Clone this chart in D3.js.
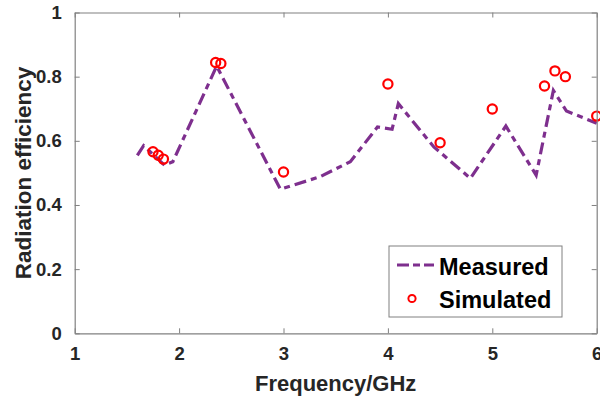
<!DOCTYPE html>
<html lang="en">
<head>
<meta charset="utf-8">
<script src="https://d3js.org/d3.v7.min.js"></script>
<style>
  body { margin: 0; background: #fff; }
  text { font-family: "Liberation Sans", Arial, sans-serif; font-weight: bold; }
</style>
</head>
<body>
<div id="chart"></div>
<script>
// measured curve
const measFreq = [1.60, 1.66, 1.86, 1.94, 2.36, 2.97, 3.35, 3.64, 3.90, 4.04, 4.10, 4.44, 4.79, 5.13, 5.42, 5.585, 5.71, 6.00];
const measEff  = [0.555, 0.585, 0.524, 0.535, 0.833, 0.449, 0.488, 0.535, 0.643, 0.636, 0.716, 0.581, 0.483, 0.646, 0.493, 0.757, 0.693, 0.655];
// simulated points
const simFreq = [1.75, 1.80, 1.85, 2.35, 2.40, 3.0, 4.0, 4.5, 5.0, 5.5, 5.6, 5.7, 6.0];
const simEff  = [0.566, 0.555, 0.543, 0.844, 0.841, 0.503, 0.777, 0.594, 0.699, 0.771, 0.818, 0.800, 0.677];

const xTicks = [1, 2, 3, 4, 5, 6];
const yTicks = [0, 0.2, 0.4, 0.6, 0.8, 1];

const W = 600, H = 398;
const mLeft = 74.7, mRight = 596.7, mTop = 12.5, mBottom = 333.3;
const purple = "#7E2F8E", red = "#FF0000", axisCol = "#808080";

const svg = d3.select("#chart").append("svg")
    .attr("width", W).attr("height", H);

const x = d3.scaleLinear().domain([1, 6]).range([mLeft, mRight]);
const y = d3.scaleLinear().domain([0, 1]).range([mBottom, mTop]);

const meas = measFreq.map((f, i) => ({x: f, y: measEff[i]}));
const sim = simFreq.map((f, i) => ({x: f, y: simEff[i]}));

// line
svg.append("path")
    .datum(meas)
    .attr("fill", "none")
    .attr("stroke", purple)
    .attr("stroke-width", 3.2)
    .attr("stroke-dasharray", "12,5,6,5")
    .attr("d", d3.line().x(d => x(d.x)).y(d => y(d.y)));

// circles
svg.selectAll(".sim")
    .data(sim)
    .enter().append("circle")
    .attr("class", "sim")
    .attr("cx", d => x(d.x))
    .attr("cy", d => y(d.y))
    .attr("r", 4.6)
    .attr("fill", "none")
    .attr("stroke", red)
    .attr("stroke-width", 2.2);

// axes (box with inward ticks on all sides)
function styleAxis(g) {
    g.select(".domain").attr("stroke", axisCol).attr("stroke-width", 1.2);
    g.selectAll(".tick line").attr("stroke", axisCol).attr("stroke-width", 1);
}
svg.append("g")
    .attr("transform", `translate(0,${mBottom})`)
    .call(d3.axisBottom(x).tickValues(xTicks).tickSize(-5).tickSizeOuter(0).tickPadding(14).tickFormat(d3.format("d")))
    .call(styleAxis)
    .call(g => g.selectAll(".tick text").attr("fill", "#262626").style("font-size", "18.5px"));
svg.append("g")
    .attr("transform", `translate(0,${mTop})`)
    .call(d3.axisTop(x).tickValues(xTicks).tickSize(-5).tickSizeOuter(0).tickFormat(""))
    .call(styleAxis);
svg.append("g")
    .attr("transform", `translate(${mLeft},0)`)
    .call(d3.axisLeft(y).tickValues(yTicks).tickSize(-5).tickSizeOuter(0).tickPadding(13).tickFormat(d => d === 0 || d === 1 ? d3.format("d")(d) : d3.format(".1f")(d)))
    .call(styleAxis)
    .call(g => g.selectAll(".tick text").attr("fill", "#262626").style("font-size", "18.5px"));
svg.append("g")
    .attr("transform", `translate(${mRight},0)`)
    .call(d3.axisRight(y).tickValues(yTicks).tickSize(-5).tickSizeOuter(0).tickFormat(""))
    .call(styleAxis);

// axis titles
svg.append("text")
    .attr("x", (mLeft + mRight) / 2).attr("y", 391)
    .attr("text-anchor", "middle")
    .attr("fill", "#262626")
    .style("font-size", "22px")
    .text("Frequency/GHz");
svg.append("text")
    .attr("transform", `translate(31,${(mTop + mBottom) / 2}) rotate(-90)`)
    .attr("text-anchor", "middle")
    .attr("fill", "#262626")
    .style("font-size", "22.5px")
    .text("Radiation efficiency");

// legend
const lg = svg.append("g");
lg.append("rect")
    .attr("x", 389).attr("y", 246).attr("width", 173).attr("height", 71)
    .attr("fill", "#fff").attr("stroke", axisCol).attr("stroke-width", 1);
lg.append("line")
    .attr("x1", 397).attr("x2", 434).attr("y1", 265).attr("y2", 265)
    .attr("stroke", purple).attr("stroke-width", 3)
    .attr("stroke-dasharray", "12,4,7,4");
lg.append("circle")
    .attr("cx", 412).attr("cy", 298.5).attr("r", 3.6)
    .attr("fill", "none").attr("stroke", red).attr("stroke-width", 2);
lg.append("text")
    .attr("x", 439).attr("y", 275)
    .style("font-size", "23.5px").attr("fill", "#000")
    .text("Measured");
lg.append("text")
    .attr("x", 439).attr("y", 308)
    .style("font-size", "23.5px").attr("fill", "#000")
    .text("Simulated");
</script>
</body>
</html>
